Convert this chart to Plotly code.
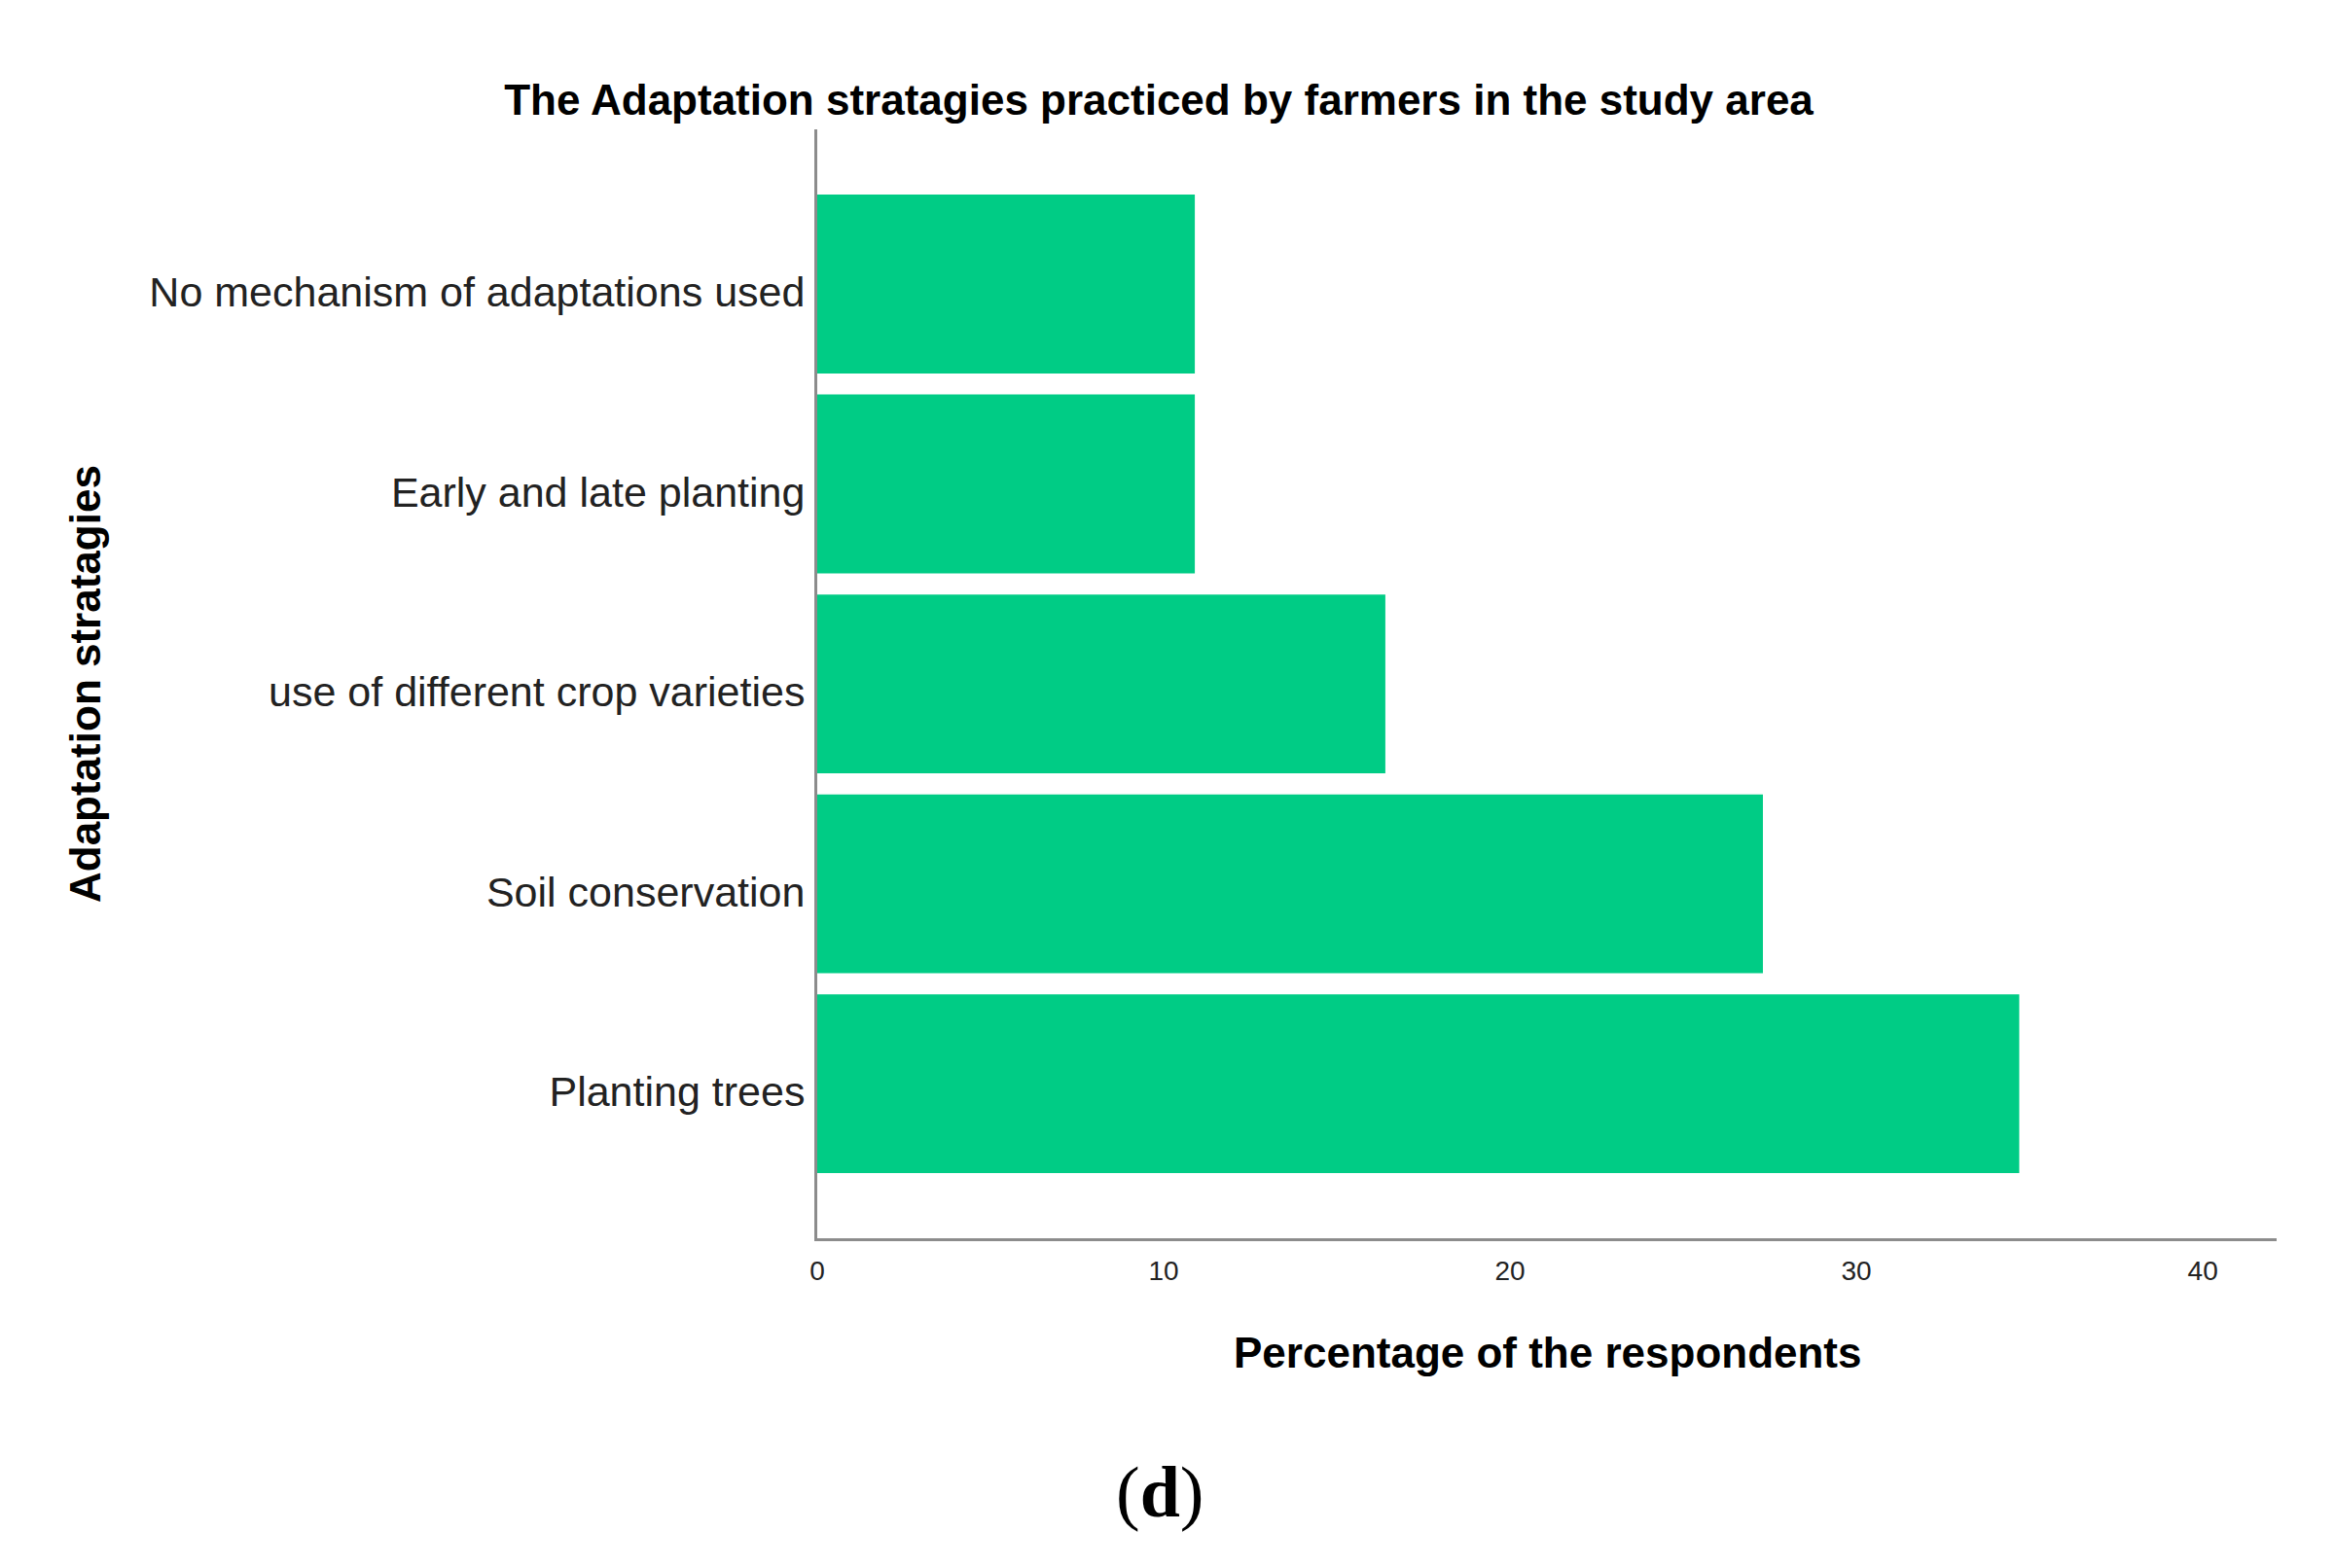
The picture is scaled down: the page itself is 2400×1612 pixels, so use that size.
import plotly.graph_objects as go

# categories top to bottom, as in the reference
strategies = [
    "No mechanism of adaptations used",
    "Early and late planting",
    "use of different crop varieties",
    "Soil conservation",
    "Planting trees",
]
percent = [10.9, 10.9, 16.4, 27.3, 34.7]
x_ticks = [0, 10, 20, 30, 40]

green = "#00CC85"
axis_grey = "#8c8c8c"

fig = go.Figure()

fig.add_trace(go.Bar(
    x=percent,
    y=strategies,
    orientation="h",
    marker=dict(color=green, line=dict(width=0)),
    showlegend=False,
))

# the page body adds an 8px margin, so the margins are shifted by that
fig.update_layout(
    width=2400,
    height=1612,
    margin=dict(l=832, r=68, t=125, b=347),
    plot_bgcolor="white",
    paper_bgcolor="white",
    font=dict(family="Liberation Sans, Arial", color="#222222"),
    bargap=0.105,
    title=dict(
        text="<b>The Adaptation stratagies practiced by farmers in the study area</b>",
        x=1183 / 2400, xanchor="center",
        y=1 - 95 / 1612, yanchor="middle",
        font=dict(size=44, color="black"),
    ),
    xaxis=dict(
        range=[0, 42.13],
        tickvals=x_ticks,
        ticktext=[str(t) for t in x_ticks],
        showgrid=False,
        zeroline=False,
        showline=True,
        linecolor=axis_grey,
        linewidth=3,
        ticks="",
        ticklabelstandoff=6,
        tickfont=dict(size=28, color="#222222"),
    ),
    yaxis=dict(
        range=[4.773, -0.774],
        showgrid=False,
        zeroline=False,
        showline=True,
        linecolor=axis_grey,
        linewidth=3,
        ticks="",
        ticklabelstandoff=1,
        ticklabelshift=-8,
        tickfont=dict(size=43, color="#222222"),
    ),
)

# axis titles and panel label
fig.add_annotation(
    text="<b>Percentage of the respondents</b>",
    xref="paper", yref="paper", x=0.5, y=-117 / 1140,
    xanchor="center", yanchor="middle", showarrow=False,
    font=dict(size=44, color="black"),
)
fig.add_annotation(
    text="<b>Adaptation stratagies</b>",
    xref="paper", yref="paper", x=-753 / 1500, y=0.5,
    xanchor="center", yanchor="middle", textangle=-90, showarrow=False,
    font=dict(size=44, color="black"),
)
fig.add_annotation(
    text="(<b>d</b>)",
    xref="paper", yref="paper", x=(1192 - 840) / 1500, y=-(1534 - 1273) / 1140,
    xanchor="center", yanchor="middle", showarrow=False,
    font=dict(size=74, color="black", family="Liberation Serif, Times New Roman"),
)

fig.write_html("out.html")
